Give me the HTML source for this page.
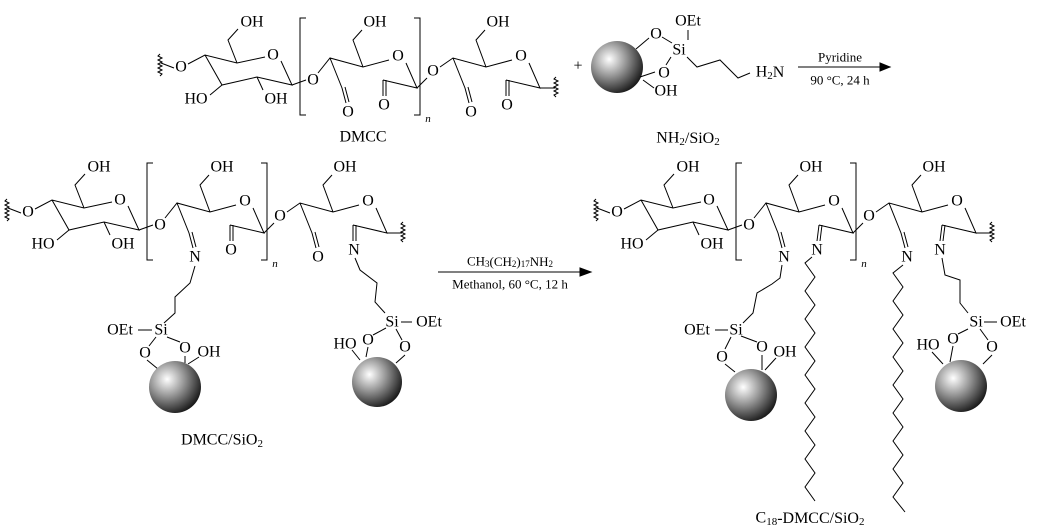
<!DOCTYPE html>
<html><head><meta charset="utf-8"><style>
html,body{margin:0;padding:0;background:#fff;}
svg{display:block;}
text{font-family:"Liberation Serif",serif;fill:#000;}
</style></head><body>
<svg width="1038" height="529" viewBox="0 0 1038 529" xmlns="http://www.w3.org/2000/svg">
<defs>
<radialGradient id="sg" cx="0.35" cy="0.35" r="0.7">
<stop offset="0" stop-color="#ffffff"/><stop offset="0.45" stop-color="#9a9a9a"/><stop offset="1" stop-color="#1a1a1a"/>
</radialGradient>
</defs>
<g fill="none" stroke="#000" stroke-width="1" text-anchor="middle" dominant-baseline="central" font-size="16">

<!-- ============ TOP DMCC ============ -->
<g>
<path d="M160,54 l-2,2 l4,2 l-4,2 l4,2 l-4,2 l4,2 l-4,2 l4,2 l-4,2 l4,2 l-2,2"/>
<path d="M161,63 L174,68 M188,64 L205,55 L237,63 L265,57 M281,61 L292,85 L257,77 L222,85 L205,55"/>
<path d="M237,63 L228,40 L238,29 M222,85 L210,95 M257,77 L263,90"/>
<path d="M292,85 L306,80 M318,73 L330,58 L363,67 L389,60 M406,63 L417,88 L383,80 M383,80 L383,96 M386,80 L386,96 M330,58 L342,88 M342,88 L346,103 M345,87 L349,102 M363,67 L353,40 L362,30"/>
<path d="M417,88 L427,78 M440,67 L453,58 L486,67 L512,60 M529,63 L540,88 L506,80 M506,80 L506,96 M509,80 L509,96 M453,58 L465,88 M465,88 L469,103 M468,87 L472,102 M486,67 L476,40 L485,30 M540,88 L555,88"/>
<path d="M556,77 l-2,2 l4,2 l-4,2 l4,2 l-4,2 l4,2 l-4,2 l4,2 l-4,2 l2,2"/>
<path d="M306,18 H300 V115 H306 M414,18 H420 V115 H414"/>
</g>
<g stroke="none">
<text x="181" y="67">O</text><text x="273" y="55">O</text><text x="252" y="22">OH</text>
<text x="196" y="99">HO</text><text x="276" y="99">OH</text><text x="313" y="80">O</text>
<text x="398" y="56">O</text><text x="384" y="105">O</text><text x="348" y="112">O</text>
<text x="375" y="22">OH</text><text x="433" y="71">O</text><text x="521" y="56">O</text>
<text x="507" y="105">O</text><text x="471" y="112">O</text><text x="498" y="22">OH</text>
<text x="428" y="119" font-size="11" font-style="italic">n</text>
<text x="363" y="137">DMCC</text>
<text x="578" y="66">+</text>
</g>

<!-- NH2/SiO2 reactant -->
<circle cx="617" cy="67" r="26" fill="url(#sg)" stroke="none"/>
<path d="M636,49 L649,38 M640,77 L655,72 M662,37 L672,43 M671,57 L666,65 M688,30 L688,40 M687,57 L697,67 L720,60 L738,78 L750,73 M643,80 L654,88"/>
<g stroke="none">
<text x="656" y="34">O</text><text x="679" y="50">Si</text><text x="688" y="21">OEt</text>
<text x="664" y="73">O</text><text x="666" y="91">OH</text>
<text x="770" y="72">H<tspan font-size="11" dy="4">2</tspan><tspan dy="-4">N</tspan></text>
<text x="688" y="138">NH<tspan font-size="11" dy="4">2</tspan><tspan dy="-4">/SiO</tspan><tspan font-size="11" dy="4">2</tspan></text>
<text x="840" y="57" font-size="13">Pyridine</text>
<text x="840" y="80" font-size="13">90 °C, 24 h</text>
</g>
<path d="M798,67 H880"/><path d="M880,63 L890,67 L880,71 Z" fill="#000"/>

<!-- ============ MIDDLE DMCC/SiO2 ============ -->
<g transform="translate(-153,145)">
<path d="M160,54 l-2,2 l4,2 l-4,2 l4,2 l-4,2 l4,2 l-4,2 l4,2 l-4,2 l4,2 l-2,2"/>
<path d="M161,63 L174,68 M188,64 L205,55 L237,63 L265,57 M281,61 L292,85 L257,77 L222,85 L205,55"/>
<path d="M237,63 L228,40 L238,29 M222,85 L210,95 M257,77 L263,90"/>
<path d="M292,85 L306,80 M318,73 L330,58 L363,67 L389,60 M406,63 L417,88 L383,80 M383,80 L383,96 M386,80 L386,96 M330,58 L342,88 M342,88 L346,103 M345,87 L349,102 M363,67 L353,40 L362,30"/>
<path d="M417,88 L427,78 M440,67 L453,58 L486,67 L512,60 M529,63 L540,88 L506,80 M506,80 L506,96 M509,80 L509,96 M453,58 L465,88 M465,88 L469,103 M468,87 L472,102 M486,67 L476,40 L485,30 M540,88 L555,88"/>
<path d="M556,77 l-2,2 l4,2 l-4,2 l4,2 l-4,2 l4,2 l-4,2 l4,2 l-4,2 l2,2"/>
<path d="M306,18 H300 V115 H306 M414,18 H420 V115 H414"/>
<g stroke="none">
<text x="181" y="67">O</text><text x="273" y="55">O</text><text x="252" y="22">OH</text>
<text x="196" y="99">HO</text><text x="276" y="99">OH</text><text x="313" y="80">O</text>
<text x="398" y="56">O</text><text x="384" y="105">O</text><text x="348" y="112">N</text>
<text x="375" y="22">OH</text><text x="433" y="71">O</text><text x="521" y="56">O</text>
<text x="507" y="105">N</text><text x="471" y="112">O</text><text x="498" y="22">OH</text>
<text x="428" y="119" font-size="11" font-style="italic">n</text>
</g>
</g>
<!-- middle left arm -->
<path d="M195,266 L190,283 L175,297 L175,313 L164,323 M138,330 L152,330 M156,337 L149,346 M167,337 L180,342 M147,360 L158,369 M185,356 L185,363 M188,364 L199,357"/>
<circle cx="175" cy="387" r="26" fill="url(#sg)" stroke="none"/>
<!-- middle right arm -->
<path d="M355,258 L360,270 L377,283 L375,302 L385,313 M401,322 L412,322 M386,328 L373,335 M396,329 L402,340 M368,347 L366,357 M405,355 L396,363 M352,350 L360,360"/>
<circle cx="377" cy="382" r="25" fill="url(#sg)" stroke="none"/>
<g stroke="none">
<text x="161" y="330">Si</text><text x="120" y="330">OEt</text><text x="145" y="353">O</text>
<text x="185" y="348">O</text><text x="209" y="352">OH</text>
<text x="392" y="322">Si</text><text x="429" y="322">OEt</text><text x="368" y="340">O</text>
<text x="405" y="347">O</text><text x="345" y="344">HO</text>
<text x="222" y="440">DMCC/SiO<tspan font-size="11" dy="4">2</tspan></text>
<text x="510" y="261" font-size="13">CH<tspan font-size="9" dy="3">3</tspan><tspan dy="-3">(CH</tspan><tspan font-size="9" dy="3">2</tspan><tspan dy="-3">)</tspan><tspan font-size="9" dy="3">17</tspan><tspan dy="-3">NH</tspan><tspan font-size="9" dy="3">2</tspan></text>
<text x="510" y="284" font-size="13">Methanol, 60 °C, 12 h</text>
</g>
<path d="M438,272 H582"/><path d="M580,268 L591,272 L580,276 Z" fill="#000"/>

<!-- ============ RIGHT C18-DMCC/SiO2 ============ -->
<g transform="translate(436,145)">
<path d="M160,54 l-2,2 l4,2 l-4,2 l4,2 l-4,2 l4,2 l-4,2 l4,2 l-4,2 l4,2 l-2,2"/>
<path d="M161,63 L174,68 M188,64 L205,55 L237,63 L265,57 M281,61 L292,85 L257,77 L222,85 L205,55"/>
<path d="M237,63 L228,40 L238,29 M222,85 L210,95 M257,77 L263,90"/>
<path d="M292,85 L306,80 M318,73 L330,58 L363,67 L389,60 M406,63 L417,88 L383,80 M383,80 L381,96 M386,80 L384,96 M330,58 L342,88 M342,88 L346,103 M345,87 L349,102 M363,67 L353,40 L362,30"/>
<path d="M417,88 L427,78 M440,67 L453,58 L486,67 L512,60 M529,63 L540,88 L506,80 M506,80 L504,96 M509,80 L507,96 M453,58 L465,88 M465,88 L469,103 M468,87 L472,102 M486,67 L476,40 L485,30 M540,88 L555,88"/>
<path d="M556,77 l-2,2 l4,2 l-4,2 l4,2 l-4,2 l4,2 l-4,2 l4,2 l-4,2 l2,2"/>
<path d="M306,18 H300 V115 H306 M414,18 H420 V115 H414"/>
<g stroke="none">
<text x="181" y="67">O</text><text x="273" y="55">O</text><text x="252" y="22">OH</text>
<text x="196" y="99">HO</text><text x="276" y="99">OH</text><text x="313" y="80">O</text>
<text x="398" y="56">O</text><text x="381" y="105">N</text><text x="348" y="112">N</text>
<text x="375" y="22">OH</text><text x="433" y="71">O</text><text x="521" y="56">O</text>
<text x="504" y="105">N</text><text x="471" y="112">N</text><text x="498" y="22">OH</text>
<text x="428" y="119" font-size="11" font-style="italic">n</text>
</g>
</g>
<!-- right arm 1 -->
<path d="M782,265 L780,278 L772,284 L757,293 L753,313 L743,323 M715,330 L728,330 M731,337 L725,349 M741,336 L757,342 M725,364 L735,372 M762,355 L762,370 M765,370 L776,358"/>
<circle cx="751" cy="395" r="26" fill="url(#sg)" stroke="none"/>
<!-- right arm 2 -->
<path d="M942,258 L945,275 L960,280 L960,303 L968,313 M984,322 L997,322 M968,329 L958,334 M980,329 L988,340 M953,346 L950,362 M992,355 L983,364 M932,352 L943,364"/>
<circle cx="961" cy="386" r="26" fill="url(#sg)" stroke="none"/>
<!-- C18 chains -->
<polyline points="812,257 805,263 815,277 805,291 815,305 805,319 815,333 805,347 815,361 805,375 815,389 805,403 815,417 805,431 815,445 805,459 815,473 805,487 815,501"/>
<polyline points="903,265 893,273 903,287 893,301 903,315 893,329 903,343 893,357 903,371 893,385 903,399 893,413 903,427 893,441 903,455 893,469 903,483 893,497 905,512"/>
<g stroke="none">
<text x="736" y="330">Si</text><text x="697" y="330">OEt</text><text x="722" y="357">O</text>
<text x="762" y="347">O</text><text x="785" y="352">OH</text>
<text x="976" y="322">Si</text><text x="1013" y="322">OEt</text><text x="953" y="339">O</text>
<text x="992" y="347">O</text><text x="928" y="345">HO</text>
<text x="810" y="518">C<tspan font-size="11" dy="4">18</tspan><tspan dy="-4">-DMCC/SiO</tspan><tspan font-size="11" dy="4">2</tspan></text>
</g>
</g>
</svg>
</body></html>
